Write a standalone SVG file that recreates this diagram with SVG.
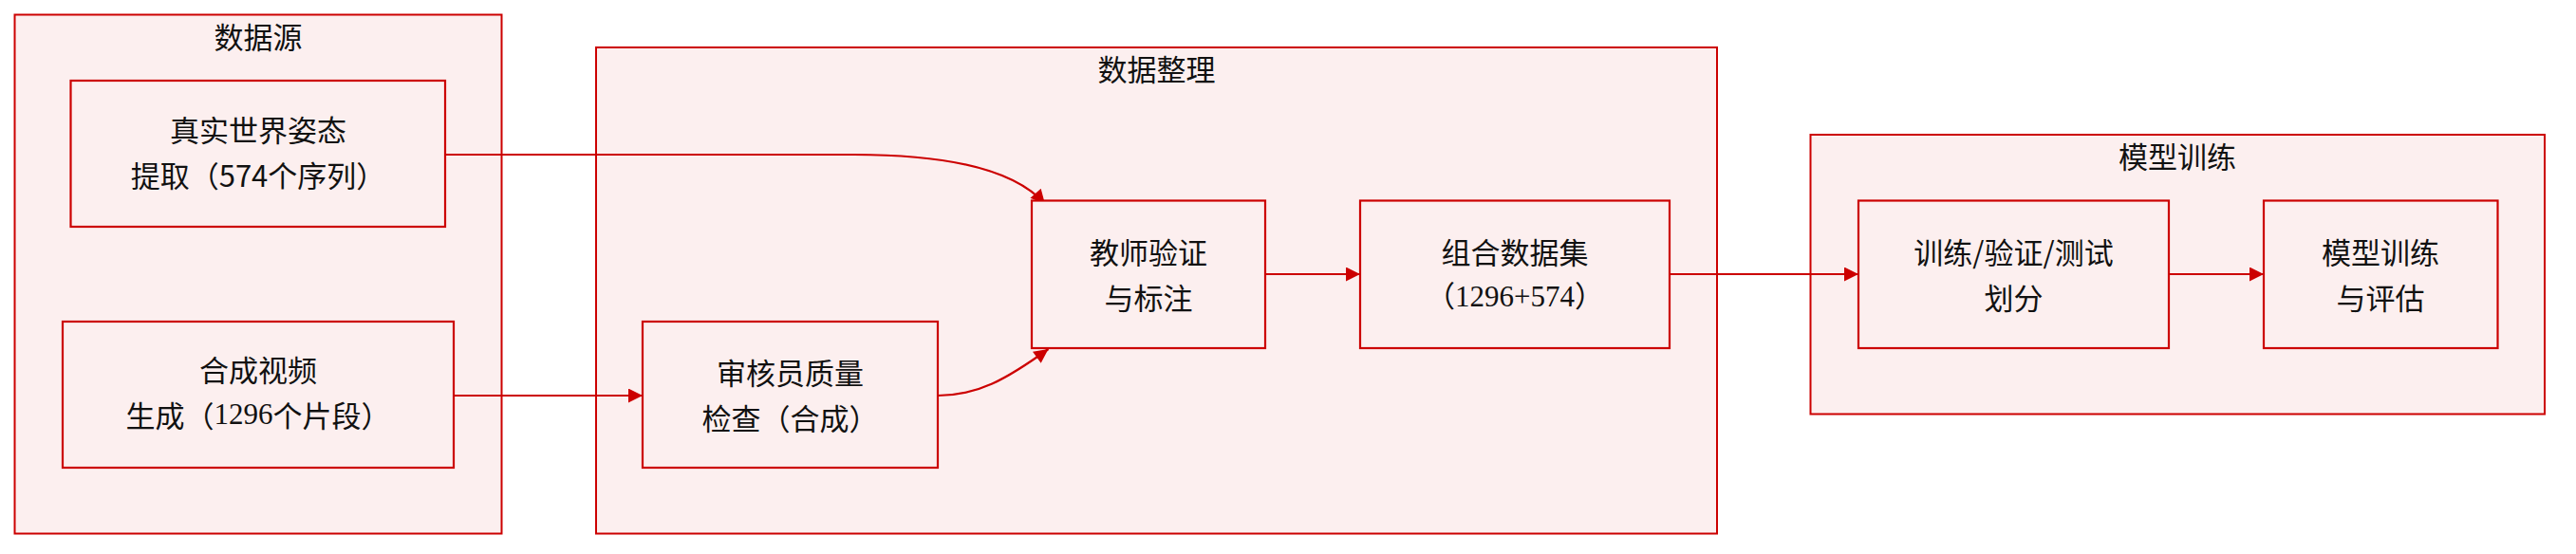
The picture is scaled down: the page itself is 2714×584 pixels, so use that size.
<svg xmlns="http://www.w3.org/2000/svg" width="2714" height="584" viewBox="0 0 2714 584">
<style>
.cl{fill:#fcefef;stroke:#cc0000;stroke-width:2}
.nd{fill:#fcefef;stroke:#cc0000;stroke-width:2.2}
.ed{fill:none;stroke:#cc0000;stroke-width:2.2}
text{font-family:"Noto Sans CJK SC","Noto Sans",sans-serif;font-size:31px;fill:#111;text-anchor:middle;dominant-baseline:central}
.sf{font-family:"Liberation Serif","Noto Sans CJK SC",serif}
</style>
<defs>
<marker id="ah" viewBox="0 0 10 10" refX="10" refY="5" markerWidth="16" markerHeight="15" markerUnits="userSpaceOnUse" orient="auto">
<path d="M0,0 L10,5 L0,10 z" fill="#cc0000"/>
</marker>
</defs>
<rect width="2714" height="584" fill="#ffffff"/>
<g id="cluster-source">
<rect class="cl" x="15.5" y="15.5" width="513" height="547"/>
<text x="272" y="37">数据源</text>
</g>
<g id="cluster-curation">
<rect class="cl" x="628" y="50" width="1181" height="512.5"/>
<text x="1218.5" y="71">数据整理</text>
</g>
<g id="cluster-training">
<rect class="cl" x="1907.5" y="142" width="773.5" height="294.5"/>
<text x="2294" y="163">模型训练</text>
</g>
<g id="connectors">
<path class="ed" d="M469,163 L900,163 C1000,163 1070,180 1101,215" marker-end="url(#ah)"/>
<path class="ed" d="M478,417 L677,417" marker-end="url(#ah)"/>
<path class="ed" d="M988,417 C1030,417 1060,400 1104.5,368" marker-end="url(#ah)"/>
<path class="ed" d="M1333,289 L1433,289" marker-end="url(#ah)"/>
<path class="ed" d="M1759,289 L1958,289" marker-end="url(#ah)"/>
<path class="ed" d="M2285,289 L2385,289" marker-end="url(#ah)"/>
</g>
<g id="node-real">
<rect class="nd" x="74.5" y="85" width="394.5" height="154"/>
<text x="272" y="135">真实世界姿态</text>
<text x="272" y="183">提取（574个序列）</text>
</g>
<g id="node-synth">
<rect class="nd" x="66" y="339" width="412" height="154"/>
<text x="272" y="388">合成视频</text>
<text x="272" y="436">生成（<tspan class="sf">1296</tspan>个片段）</text>
</g>
<g id="node-review">
<rect class="nd" x="677" y="339" width="311" height="154"/>
<text x="832.5" y="391">审核员质量</text>
<text x="832.5" y="439">检查（合成）</text>
</g>
<g id="node-teacher">
<rect class="nd" x="1087" y="211.5" width="246" height="155.5"/>
<text x="1210" y="264">教师验证</text>
<text x="1210" y="312">与标注</text>
</g>
<g id="node-combined">
<rect class="nd" x="1433" y="211.5" width="326" height="155.5"/>
<text x="1596" y="264">组合数据集</text>
<text x="1596" y="312" class="sf">（1296+574）</text>
</g>
<g id="node-split">
<rect class="nd" x="1958" y="211.5" width="327" height="155.5"/>
<text x="2121.5" y="264">训练/验证/测试</text>
<text x="2121.5" y="312">划分</text>
</g>
<g id="node-train">
<rect class="nd" x="2385" y="211.5" width="246.5" height="155.5"/>
<text x="2508" y="264">模型训练</text>
<text x="2508" y="312">与评估</text>
</g>
</svg>
